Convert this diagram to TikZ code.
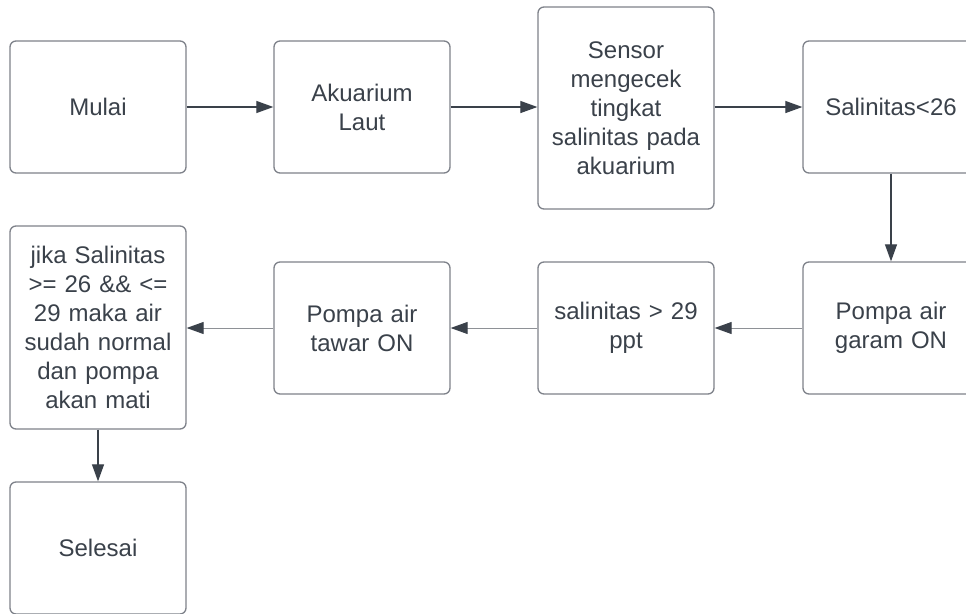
\documentclass[tikz,border=0pt]{standalone}
\usepackage{fontspec}
\setmainfont{Liberation Sans}
\usetikzlibrary{arrows.meta}
\definecolor{txt}{HTML}{3A414A}
\definecolor{bord}{HTML}{7E828A}
\definecolor{lgray}{HTML}{8E9196}
\begin{document}
\begin{tikzpicture}[x=1pt,y=-1pt,
  box/.style={draw=bord, line width=1.3pt, rounded corners=6pt, minimum width=176pt, minimum height=132pt, inner sep=0pt, text width=170pt, align=center, text=txt, font=\fontsize{24}{29}\selectfont},
  arr/.style={draw=txt, line width=1.2pt, -{Triangle[length=17pt,width=12pt]}},
  arrl/.style={draw=lgray, line width=1pt, -{Triangle[length=17pt,width=12pt,color=txt]}}]
\useasboundingbox[fill=white] (0,0) rectangle (966,613);
\clip (0,0) rectangle (966,613);
\node[box] (mulai) at (98,107) {Mulai};
\node[box] (akuarium) at (362,107) {Akuarium\\Laut};
\node[box, minimum height=202pt] (sensor) at (626,108) {Sensor\\mengecek\\tingkat\\salinitas pada\\akuarium};
\node[box] (sal26) at (891,107) {Salinitas<26};
\node[box] (garam) at (891,328) {Pompa air\\garam ON};
\node[box] (sal29) at (626,328) {salinitas > 29\\ppt};
\node[box] (tawar) at (362,328) {Pompa air\\tawar ON};
\node[box, minimum height=203pt] (jika) at (98,327.5) {jika Salinitas\\>= 26 \&\& <=\\29 maka air\\sudah normal\\dan pompa\\akan mati};
\node[box] (selesai) at (98,548) {Selesai};
\draw[arr] (mulai.east) -- (akuarium.west);
\draw[arr] (akuarium.east) -- (sensor.west |- akuarium.east);
\draw[arr] (sensor.east |- sal26.west) -- (sal26.west);
\draw[arr] (sal26.south) -- (garam.north);
\draw[arrl] (garam.west) -- (sal29.east);
\draw[arrl] (sal29.west) -- (tawar.east);
\draw[arrl] (tawar.west) -- (jika.east |- tawar.west);
\draw[arr] (jika.south) -- (selesai.north);
\end{tikzpicture}
\end{document}
